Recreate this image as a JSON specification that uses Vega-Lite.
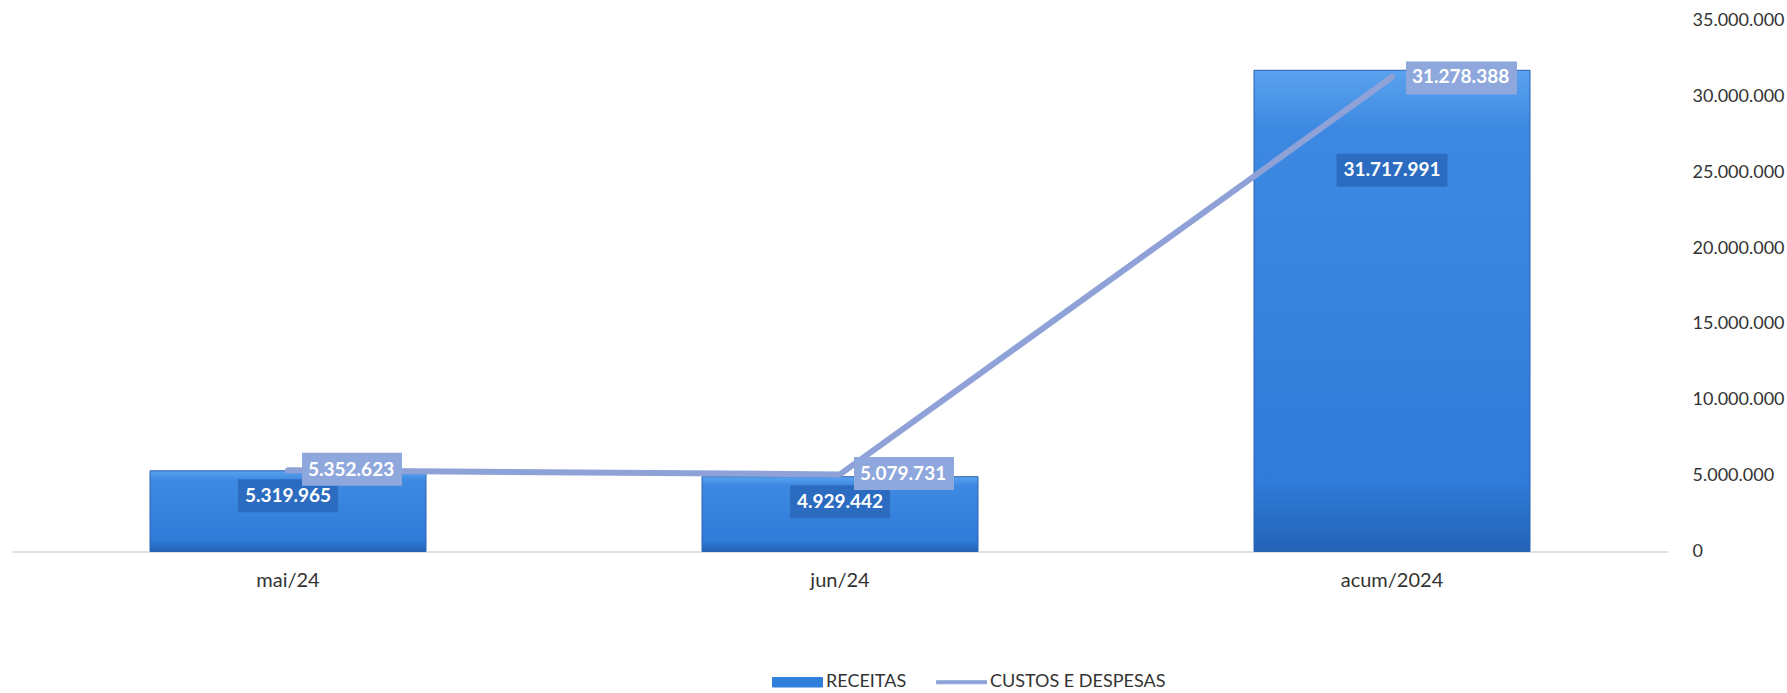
{
  "$schema": "https://vega.github.io/schema/vega-lite/v6.json",
  "width": 1656,
  "height": 531,
  "autosize": {"type": "none"},
  "padding": {"left": 12, "top": 20.5, "right": 119, "bottom": 141.5},
  "background": "white",
  "config": {
    "view": {"stroke": null},
    "font": "Lato",
    "locale": {"number": {"decimal": ",", "thousands": ".", "grouping": [3], "currency": ["R$ ", ""]}}
  },
  "data": {"values": [
    {"mes": "mai/24", "receitas": 5319965, "custos": 5352623},
    {"mes": "jun/24", "receitas": 4929442, "custos": 5079731},
    {"mes": "acum/2024", "receitas": 31717991, "custos": 31278388}
  ]},
  "encoding": {
    "x": {
      "field": "mes", "type": "nominal", "sort": null,
      "scale": {"paddingInner": 0.5, "paddingOuter": 0.25},
      "axis": {"title": null, "labelAngle": 0, "ticks": false, "domainColor": "#d9d9d9", "domainWidth": 1.5, "labelPadding": 19, "labelFontSize": 20, "labelFont": "Lato", "labelColor": "#333333"}
    }
  },
  "layer": [
    {
      "mark": {
        "type": "bar",
        "fill": {"x1": 0, "y1": 0, "x2": 0, "y2": 1, "gradient": "linear", "stops": [
          {"offset": 0, "color": "#5ba2ef"},
          {"offset": 0.12, "color": "#3d89e2"},
          {"offset": 0.85, "color": "#2f7cd9"},
          {"offset": 1, "color": "#2463b6"}
        ]},
        "stroke": "#2a62b0", "strokeWidth": 1
      },
      "encoding": {
        "y": {
          "field": "receitas", "type": "quantitative",
          "scale": {"domain": [0, 35000000]},
          "axis": {"title": null, "orient": "right", "domain": false, "ticks": false, "grid": false, "values": [0, 5000000, 10000000, 15000000, 20000000, 25000000, 30000000, 35000000], "format": ",d", "labelAlign": "left", "labelPadding": 24, "labelFontSize": 18, "labelFont": "Lato", "labelColor": "#333333"}
        }
      }
    },
    {
      "transform": [{"filter": "datum.mes != 'acum/2024'"}],
      "mark": {"type": "point", "shape": "M-1,-0.33H1V0.33H-1Z", "size": 10000, "filled": true, "fill": "#2c6cc0", "opacity": 1, "strokeWidth": 0, "yOffset": 25},
      "encoding": {"y": {"field": "receitas", "type": "quantitative"}}
    },
    {
      "transform": [{"filter": "datum.mes == 'acum/2024'"}],
      "mark": {"type": "point", "shape": "M-1,-0.297H1V0.297H-1Z", "size": 12321, "filled": true, "fill": "#2c6cc0", "opacity": 1, "strokeWidth": 0, "yOffset": 100},
      "encoding": {"y": {"field": "receitas", "type": "quantitative"}}
    },
    {
      "transform": [{"filter": "datum.mes != 'acum/2024'"}],
      "mark": {"type": "text", "color": "white", "fontWeight": "bold", "fontSize": 19, "font": "Lato", "baseline": "middle", "align": "center", "dy": 25},
      "encoding": {"y": {"field": "receitas", "type": "quantitative"}, "text": {"field": "receitas", "type": "quantitative", "format": ",d"}}
    },
    {
      "transform": [{"filter": "datum.mes == 'acum/2024'"}],
      "mark": {"type": "text", "color": "white", "fontWeight": "bold", "fontSize": 19, "font": "Lato", "baseline": "middle", "align": "center", "dy": 100},
      "encoding": {"y": {"field": "receitas", "type": "quantitative"}, "text": {"field": "receitas", "type": "quantitative", "format": ",d"}}
    },
    {
      "mark": {"type": "line", "strokeWidth": 6, "strokeCap": "round", "strokeJoin": "round"},
      "encoding": {
        "y": {"field": "custos", "type": "quantitative"},
        "color": {
          "datum": "CUSTOS E DESPESAS", "type": "nominal",
          "scale": {"domain": ["RECEITAS", "CUSTOS E DESPESAS"], "range": ["#2f7fdb", "#8ea2d8"]},
          "legend": {
            "orient": "none", "legendX": 760, "legendY": 636, "direction": "horizontal", "title": null,
            "symbolSize": 2500, "labelFontSize": 18, "labelFont": "Lato", "labelColor": "#333333",
            "labelLimit": 600, "columnPadding": 27, "labelOffset": 3,
            "encode": {"symbols": {"update": {
              "shape": {"signal": "datum.value === 'RECEITAS' ? 'M-1,-0.19H1V0.19H-1Z' : 'M-1,-0.06H1V0.06H-1Z'"},
              "fill": {"signal": "datum.value === 'RECEITAS' ? '#2f7fdb' : '#8ea2d8'"},
              "stroke": {"signal": "datum.value === 'RECEITAS' ? '#2a5fa8' : '#8ea2d8'"},
              "strokeWidth": {"value": 1},
              "size": {"value": 2500},
              "opacity": {"value": 1}
            }}}
          }
        }
      }
    },
    {
      "transform": [{"filter": "datum.mes != 'acum/2024'"}],
      "mark": {"type": "point", "shape": "M-1,-0.33H1V0.33H-1Z", "size": 10000, "filled": true, "fill": "#8ea7dc", "opacity": 1, "strokeWidth": 0, "xOffset": 64, "yOffset": -1},
      "encoding": {"y": {"field": "custos", "type": "quantitative"}}
    },
    {
      "transform": [{"filter": "datum.mes == 'acum/2024'"}],
      "mark": {"type": "point", "shape": "M-1,-0.297H1V0.297H-1Z", "size": 12321, "filled": true, "fill": "#8ea7dc", "opacity": 1, "strokeWidth": 0, "xOffset": 69.5, "yOffset": 1},
      "encoding": {"y": {"field": "custos", "type": "quantitative"}}
    },
    {
      "mark": {"type": "text", "color": "white", "fontWeight": "bold", "fontSize": 19, "font": "Lato", "baseline": "middle", "align": "left", "dx": 20},
      "encoding": {"y": {"field": "custos", "type": "quantitative"}, "text": {"field": "custos", "type": "quantitative", "format": ",d"}}
    }
  ]
}
